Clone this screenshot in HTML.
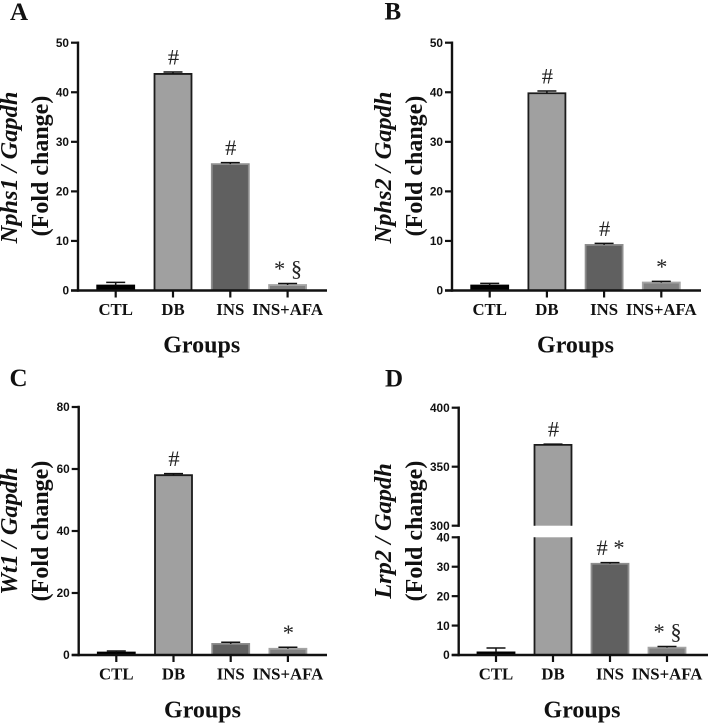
<!DOCTYPE html>
<html lang="en">
<head>
<meta charset="utf-8">
<title>Fold change charts</title>
<style>
html,body{margin:0;padding:0;background:#fff;}
svg{display:block;}
.panel-letter{font:bold 25px "Liberation Serif",serif;fill:#111;}
.title{font:bold 24px "Liberation Serif",serif;fill:#111;text-anchor:middle;}
.title-italic{font:italic bold 24.4px "Liberation Serif",serif;fill:#111;text-anchor:middle;}
.tick-label{font:bold 11.8px "Liberation Sans",sans-serif;fill:#111;text-anchor:end;}
.cat-label{font:bold 16.8px "Liberation Serif",serif;fill:#111;text-anchor:middle;}
.annot{font:22.5px "Liberation Serif",serif;fill:#222;text-anchor:middle;}
</style>
</head>
<body>
<svg id="figure" xmlns="http://www.w3.org/2000/svg" width="708" height="724" viewBox="0 0 708 724">
  <rect width="708" height="724" fill="#fff"/>

  <text class="panel-letter" x="10" y="20">A</text>
  <text class="panel-letter" x="384.5" y="19.5">B</text>
  <text class="panel-letter" x="9.5" y="386">C</text>
  <text class="panel-letter" x="385" y="386.5">D</text>

  <text class="title-italic" transform="translate(17 167.5) rotate(-90)">Nphs1 / Gapdh</text>
  <text class="title" transform="translate(48 166) rotate(-90)">(Fold change)</text>
  <text class="title-italic" transform="translate(391 167.5) rotate(-90)">Nphs2 / Gapdh</text>
  <text class="title" transform="translate(422 166) rotate(-90)">(Fold change)</text>
  <text class="title-italic" transform="translate(17 531) rotate(-90)">Wt1 / Gapdh</text>
  <text class="title" transform="translate(48 531) rotate(-90)">(Fold change)</text>
  <text class="title-italic" transform="translate(391 531) rotate(-90)">Lrp2 / Gapdh</text>
  <text class="title" transform="translate(422 531) rotate(-90)">(Fold change)</text>

  <text class="title" x="201.7" y="352.5">Groups</text>
  <text class="title" x="575.5" y="352.5">Groups</text>
  <text class="title" x="202.5" y="717.5">Groups</text>
  <text class="title" x="582" y="717.5">Groups</text>
</svg>
<script>
const categories = ['CTL', 'DB', 'INS', 'INS+AFA'];

const nphs1Means = [1, 43.7, 25.5, 1.1];
const nphs1Errors = [0.65, 0.4, 0.3, 0.3];
const nphs1Notes = ['', '#', '#', '* §'];
const nphs1Ticks = [0, 10, 20, 30, 40, 50];

const nphs2Means = [1, 39.8, 9.2, 1.6];
const nphs2Errors = [0.45, 0.45, 0.3, 0.25];
const nphs2Notes = ['', '#', '#', '*'];
const nphs2Ticks = [0, 10, 20, 30, 40, 50];

const wt1Means = [0.8, 58, 3.6, 2];
const wt1Errors = [0.5, 0.5, 0.5, 0.5];
const wt1Notes = ['', '#', '', '*'];
const wt1Ticks = [0, 20, 40, 60, 80];

const lrp2Means = [0.9, 368.5, 31, 2.5];
const lrp2Errors = [1.5, 0.6, 0.4, 0.4];
const lrp2Notes = ['', '#', '# *', '* §'];
const lrp2Ticks = [0, 10, 20, 30, 40, 300, 350, 400];

const barFills = ['#000000', '#a0a0a0', '#606060', '#808080'];
const barStrokes = ['#000000', '#1c1c1c', '#8e8e8e', '#a4a4a4'];

const svg = document.getElementById('figure');
const SVG_NS = 'http://www.w3.org/2000/svg';

function make(tag, attrs, parent) {
  const el = document.createElementNS(SVG_NS, tag);
  Object.keys(attrs).forEach(function (k) { el.setAttribute(k, attrs[k]); });
  parent.appendChild(el);
  return el;
}

function slug(s) {
  return s.toLowerCase().replace(/[^a-z0-9]+/g, '-');
}

function drawPanel(id, cfg) {
  const g = make('g', {}, svg);
  
  

  // Axis function: maps a value through the (possibly broken) y segments.
  function segmentFor(v) {
    for (let i = 0; i < cfg.segments.length; i++) {
      if (v <= cfg.segments[i].d1) return cfg.segments[i];
    }
    return cfg.segments[cfg.segments.length - 1];
  }
  function inSegment(s, v) {
    return s.r0 + (v - s.d0) * (s.r1 - s.r0) / (s.d1 - s.d0);
  }
  function y(v) {
    return inSegment(segmentFor(v), v);
  }
  function x(i) {
    return cfg.x0 + i * cfg.step;
  }

  const halfBar = 18.5;
  const base = cfg.segments[0].r0;

  categories.forEach(function (cat, i) {
    const cx = x(i);
    const value = cfg.means[i];
    const top = y(value);
    const errTop = y(value + cfg.errors[i]);

    cfg.segments.forEach(function (s, si) {
      if (value <= s.d0) return;
      const clipped = value >= s.d1;
      const segTop = clipped ? s.r1 : inSegment(s, value);
      const fillRect = make('rect', {
        x: cx - halfBar, y: segTop,
        width: halfBar * 2, height: Math.max(0, s.r0 - segTop),
        fill: barFills[i]
      }, g);
      
      
      let d = 'M' + (cx - halfBar) + ' ' + s.r0 + 'V' + segTop;
      d += clipped ? 'M' + (cx + halfBar) + ' ' + segTop : 'H' + (cx + halfBar);
      d += 'V' + s.r0;
      const outline = make('path', {
        d: d, fill: 'none', stroke: barStrokes[i], 'stroke-width': 1.8
      }, g);
      
      
    });

    const err = make('path', {
      d: 'M' + cx + ' ' + top + 'V' + errTop + 'M' + (cx - 9.5) + ' ' + errTop + 'H' + (cx + 9.5),
      fill: 'none', stroke: '#111', 'stroke-width': 1.5
    }, g);
    
    

    const tick = make('line', {
      x1: cx, x2: cx, y1: base, y2: base + 7, stroke: '#111', 'stroke-width': 2.2
    }, g);
    
    

    const label = make('text', { x: cx, y: base + 24.5, class: 'cat-label' }, g);
    label.textContent = cat;
    
    

    if (cfg.notes[i]) {
      const note = make('text', { x: cx + 0.5, y: errTop - 7.5, class: 'annot' }, g);
      note.textContent = cfg.notes[i];
      
      
    }
  });

  cfg.segments.forEach(function (s, si) {
    const axisLine = make('line', {
      x1: cfg.axisX, x2: cfg.axisX, y1: s.r0 + 1.2, y2: s.r1 - 1.2, stroke: '#111', 'stroke-width': 2.4
    }, g);
    
    
  });

  const xAxis = make('line', {
    x1: cfg.axisX - 7, x2: cfg.axisEnd, y1: base, y2: base, stroke: '#111', 'stroke-width': 2.4
  }, g);
  
  

  cfg.ticks.forEach(function (t) {
    const ty = y(t);
    const tick = make('line', {
      x1: cfg.axisX - 7, x2: cfg.axisX, y1: ty, y2: ty, stroke: '#111', 'stroke-width': 2.2
    }, g);
    
    

    const label = make('text', { x: cfg.axisX - 9, y: ty + 4.2, class: 'tick-label' }, g);
    label.textContent = String(t);
    
    
  });
}

drawPanel('a', {
  means: nphs1Means, errors: nphs1Errors, notes: nphs1Notes, ticks: nphs1Ticks,
  axisX: 78, axisEnd: 327, x0: 115.7, step: 57.3,
  segments: [{ d0: 0, d1: 50, r0: 290.5, r1: 42.7 }]
});
drawPanel('b', {
  means: nphs2Means, errors: nphs2Errors, notes: nphs2Notes, ticks: nphs2Ticks,
  axisX: 452, axisEnd: 701, x0: 489.7, step: 57.2,
  segments: [{ d0: 0, d1: 50, r0: 290.5, r1: 42.7 }]
});
drawPanel('c', {
  means: wt1Means, errors: wt1Errors, notes: wt1Notes, ticks: wt1Ticks,
  axisX: 78.7, axisEnd: 327, x0: 116.3, step: 57.2,
  segments: [{ d0: 0, d1: 80, r0: 655, r1: 407 }]
});
drawPanel('d', {
  means: lrp2Means, errors: lrp2Errors, notes: lrp2Notes, ticks: lrp2Ticks,
  axisX: 458.7, axisEnd: 708, x0: 496, step: 57,
  segments: [
    { d0: 0, d1: 40, r0: 655, r1: 537.3 },
    { d0: 300, d1: 400, r0: 525.7, r1: 407.7 }
  ]
});
</script>
</body>
</html>
